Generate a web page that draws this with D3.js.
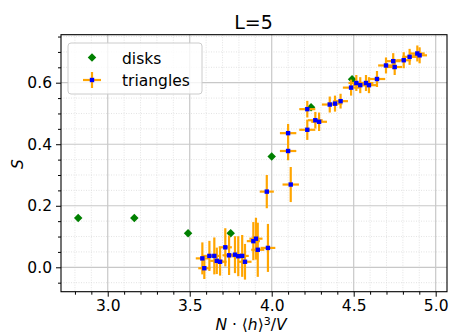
<!DOCTYPE html>
<html>
<head>
	<script src="https://cdn.jsdelivr.net/npm/d3@7/dist/d3.min.js"></script>
	<style>
		html, body {
			padding: 0;
			margin: 0;
			background: white;
		}
		text {
			font-family: "DejaVu Sans", sans-serif;
		}
	</style>
</head>
<body>
	<script>
		var width = 449, height = 334;

		// ~ ~ ~ DATA ~ ~ ~
		const DISK_X = [2.82, 3.162, 3.49, 3.75, 4.0, 4.24, 4.49];
		const DISK_S = [0.160, 0.160, 0.111, 0.111, 0.360, 0.520, 0.611];

		const TRI_X = [3.577, 3.589, 3.620, 3.650, 3.665, 3.685, 3.717, 3.740, 3.776, 3.796,
			3.820, 3.837, 3.888, 3.904, 3.915, 3.977, 3.970, 4.116, 4.100, 4.100,
			4.217, 4.217, 4.266, 4.289, 4.354, 4.386, 4.420, 4.484, 4.516, 4.540,
			4.575, 4.593, 4.642, 4.697, 4.741, 4.750, 4.805, 4.841, 4.888, 4.902];
		const TRI_S = [0.029, -0.003, 0.037, 0.037, 0.021, 0.018, 0.065, 0.039, 0.041, 0.036,
			0.037, 0.018, 0.085, 0.093, 0.057, 0.063, 0.246, 0.269, 0.378, 0.436,
			0.447, 0.514, 0.478, 0.473, 0.529, 0.532, 0.540, 0.584, 0.599, 0.592,
			0.599, 0.592, 0.612, 0.656, 0.670, 0.651, 0.673, 0.684, 0.695, 0.689];
		const TRI_XERR = [0.040, 0.037, 0.040, 0.040, 0.040, 0.040, 0.040, 0.040, 0.040, 0.040,
			0.040, 0.040, 0.040, 0.040, 0.040, 0.045, 0.043, 0.050, 0.050, 0.050,
			0.049, 0.049, 0.045, 0.048, 0.048, 0.045, 0.045, 0.050, 0.048, 0.045,
			0.045, 0.045, 0.050, 0.048, 0.045, 0.045, 0.045, 0.045, 0.045, 0.045];
		const TRI_SERR = [0.052, 0.035, 0.049, 0.060, 0.043, 0.045, 0.062, 0.064, 0.060, 0.065,
			0.068, 0.058, 0.062, 0.068, 0.088, 0.078, 0.054, 0.057, 0.030, 0.030,
			0.033, 0.027, 0.027, 0.030, 0.026, 0.026, 0.024, 0.026, 0.026, 0.026,
			0.026, 0.026, 0.026, 0.026, 0.026, 0.026, 0.026, 0.026, 0.026, 0.026];

		const X_TICKS = [3.0, 3.5, 4.0, 4.5, 5.0];
		const Y_TICKS = [0.0, 0.2, 0.4, 0.6];
		const TITLE = "L=5";
		const LEGEND_LABELS = ["disks", "triangles"];

		// ~ ~ ~ STYLE ~ ~ ~
		const DISK_COLOR = "#008000";
		const ERR_COLOR = "#ffa500";
		const TRI_COLOR = "#0000ff";
		const GRID_COLOR = "#c8c8c8";
		const FONT_SIZE = "15.5px";

		var plot = { left: 61, right: 447, top: 34.7, bottom: 291.7 };

		var svg = d3.select("body").append("svg")
			.attr("width", width)
			.attr("height", height);

		var x = d3.scaleLinear().domain([2.715, 5.069]).range([plot.left, plot.right]);
		var y = d3.scaleLinear().domain([-0.0793, 0.756]).range([plot.bottom, plot.top]);

		var xMinor = d3.range(28, 51).map(d => d / 10).filter(d => !X_TICKS.some(t => Math.abs(t - d) < 1e-9));
		var yMinor = d3.range(-1, 16).map(d => d * 0.05).filter(d => !Y_TICKS.some(t => Math.abs(t - d) < 1e-9));

		// grid
		var grid = svg.append("g");
		grid.selectAll(".xminor").data(xMinor).enter().append("line")
			.attr("x1", d => x(d)).attr("x2", d => x(d))
			.attr("y1", plot.top).attr("y2", plot.bottom)
			.attr("stroke", "#dcdcdc").attr("stroke-width", 0.8)
			.attr("stroke-dasharray", "1,1.5");
		grid.selectAll(".yminor").data(yMinor).enter().append("line")
			.attr("x1", plot.left).attr("x2", plot.right)
			.attr("y1", d => y(d)).attr("y2", d => y(d))
			.attr("stroke", "#dcdcdc").attr("stroke-width", 0.8)
			.attr("stroke-dasharray", "1,1.5");
		grid.selectAll(".xmajor").data(X_TICKS).enter().append("line")
			.attr("x1", d => x(d)).attr("x2", d => x(d))
			.attr("y1", plot.top).attr("y2", plot.bottom)
			.attr("stroke", GRID_COLOR).attr("stroke-width", 1.2);
		grid.selectAll(".ymajor").data(Y_TICKS).enter().append("line")
			.attr("x1", plot.left).attr("x2", plot.right)
			.attr("y1", d => y(d)).attr("y2", d => y(d))
			.attr("stroke", GRID_COLOR).attr("stroke-width", 1.2);

		// axes
		svg.append("g")
			.attr("transform", "translate(0," + plot.bottom + ")")
			.call(d3.axisBottom(x).tickValues(X_TICKS).tickFormat(d3.format(".1f")).tickSize(5).tickPadding(3).tickSizeOuter(0));
		svg.append("g")
			.attr("transform", "translate(0," + plot.bottom + ")")
			.call(d3.axisBottom(x).tickValues(xMinor).tickFormat("").tickSize(3).tickSizeOuter(0));
		svg.append("g")
			.attr("transform", "translate(" + plot.left + ",0)")
			.call(d3.axisLeft(y).tickValues(Y_TICKS).tickFormat(d3.format(".1f")).tickSize(5).tickPadding(4).tickSizeOuter(0));
		svg.append("g")
			.attr("transform", "translate(" + plot.left + ",0)")
			.call(d3.axisLeft(y).tickValues(yMinor).tickFormat("").tickSize(3).tickSizeOuter(0));
		svg.selectAll(".domain").remove();
		svg.selectAll(".tick text")
			.style("font-family", "DejaVu Sans")
			.style("font-size", FONT_SIZE)
			.attr("fill", "#000");
		svg.selectAll(".tick line").attr("stroke", "#000").attr("stroke-width", 1);

		// data: disks
		var diamond = d3.symbol().type(d3.symbolSquare).size(36);
		svg.append("g").selectAll("path")
			.data(DISK_X.map((d, i) => [d, DISK_S[i]]))
			.enter().append("path")
			.attr("d", diamond)
			.attr("transform", d => "translate(" + x(d[0]) + "," + y(d[1]) + ") rotate(45)")
			.attr("fill", DISK_COLOR);

		// data: triangles with error bars
		var tri = TRI_X.map((d, i) => ({ x: d, s: TRI_S[i], xe: TRI_XERR[i], se: TRI_SERR[i] }));
		var errG = svg.append("g").attr("stroke", ERR_COLOR).attr("stroke-width", 2.2);
		errG.selectAll(".h").data(tri).enter().append("line")
			.attr("x1", d => x(d.x - d.xe)).attr("x2", d => x(d.x + d.xe))
			.attr("y1", d => y(d.s)).attr("y2", d => y(d.s));
		errG.selectAll(".v").data(tri).enter().append("line")
			.attr("x1", d => x(d.x)).attr("x2", d => x(d.x))
			.attr("y1", d => y(d.s - d.se)).attr("y2", d => y(d.s + d.se));
		svg.append("g").selectAll("rect").data(tri).enter().append("rect")
			.attr("x", d => x(d.x) - 2.2).attr("y", d => y(d.s) - 2.2)
			.attr("width", 4.4).attr("height", 4.4)
			.attr("fill", TRI_COLOR);

		// frame
		svg.append("rect")
			.attr("x", plot.left).attr("y", plot.top)
			.attr("width", plot.right - plot.left).attr("height", plot.bottom - plot.top)
			.attr("fill", "none").attr("stroke", "#000").attr("stroke-width", 1.1);

		// title & labels
		svg.append("text")
			.attr("x", 253.5).attr("y", 29)
			.attr("text-anchor", "middle")
			.style("font-size", "19px")
			.text(TITLE);

		svg.append("text")
			.attr("transform", "translate(22.5,164) rotate(-90)")
			.attr("text-anchor", "middle")
			.style("font-size", FONT_SIZE)
			.style("font-style", "italic")
			.text("S");

		var xl = svg.append("text")
			.attr("x", 251).attr("y", 330)
			.attr("text-anchor", "middle")
			.style("font-size", FONT_SIZE);
		xl.append("tspan").style("font-style", "italic").text("N");
		xl.append("tspan").text(" \u00b7 \u27e8");
		xl.append("tspan").style("font-style", "italic").text("h");
		xl.append("tspan").text("\u27e9");
		xl.append("tspan").attr("dy", -5).style("font-size", "11px").text("3");
		xl.append("tspan").attr("dy", 5).text("/");
		xl.append("tspan").style("font-style", "italic").text("V");

		// legend
		var lg = svg.append("g");
		lg.append("rect")
			.attr("x", 68).attr("y", 43).attr("width", 134).attr("height", 51)
			.attr("rx", 3).attr("fill", "#fff").attr("fill-opacity", 0.8)
			.attr("stroke", "#cccccc").attr("stroke-width", 1);
		lg.append("path")
			.attr("d", diamond)
			.attr("transform", "translate(92,57.5) rotate(45)")
			.attr("fill", DISK_COLOR);
		lg.append("line").attr("x1", 83).attr("x2", 101).attr("y1", 80).attr("y2", 80)
			.attr("stroke", ERR_COLOR).attr("stroke-width", 2.2);
		lg.append("line").attr("x1", 92).attr("x2", 92).attr("y1", 72).attr("y2", 88)
			.attr("stroke", ERR_COLOR).attr("stroke-width", 2.2);
		lg.append("rect").attr("x", 89.8).attr("y", 77.8).attr("width", 4.4).attr("height", 4.4)
			.attr("fill", TRI_COLOR);
		lg.selectAll(".lt").data(LEGEND_LABELS).enter().append("text")
			.attr("x", 122).attr("y", (d, i) => 63.5 + i * 22)
			.style("font-size", FONT_SIZE)
			.text(d => d);
	</script>
</body>
</html>
